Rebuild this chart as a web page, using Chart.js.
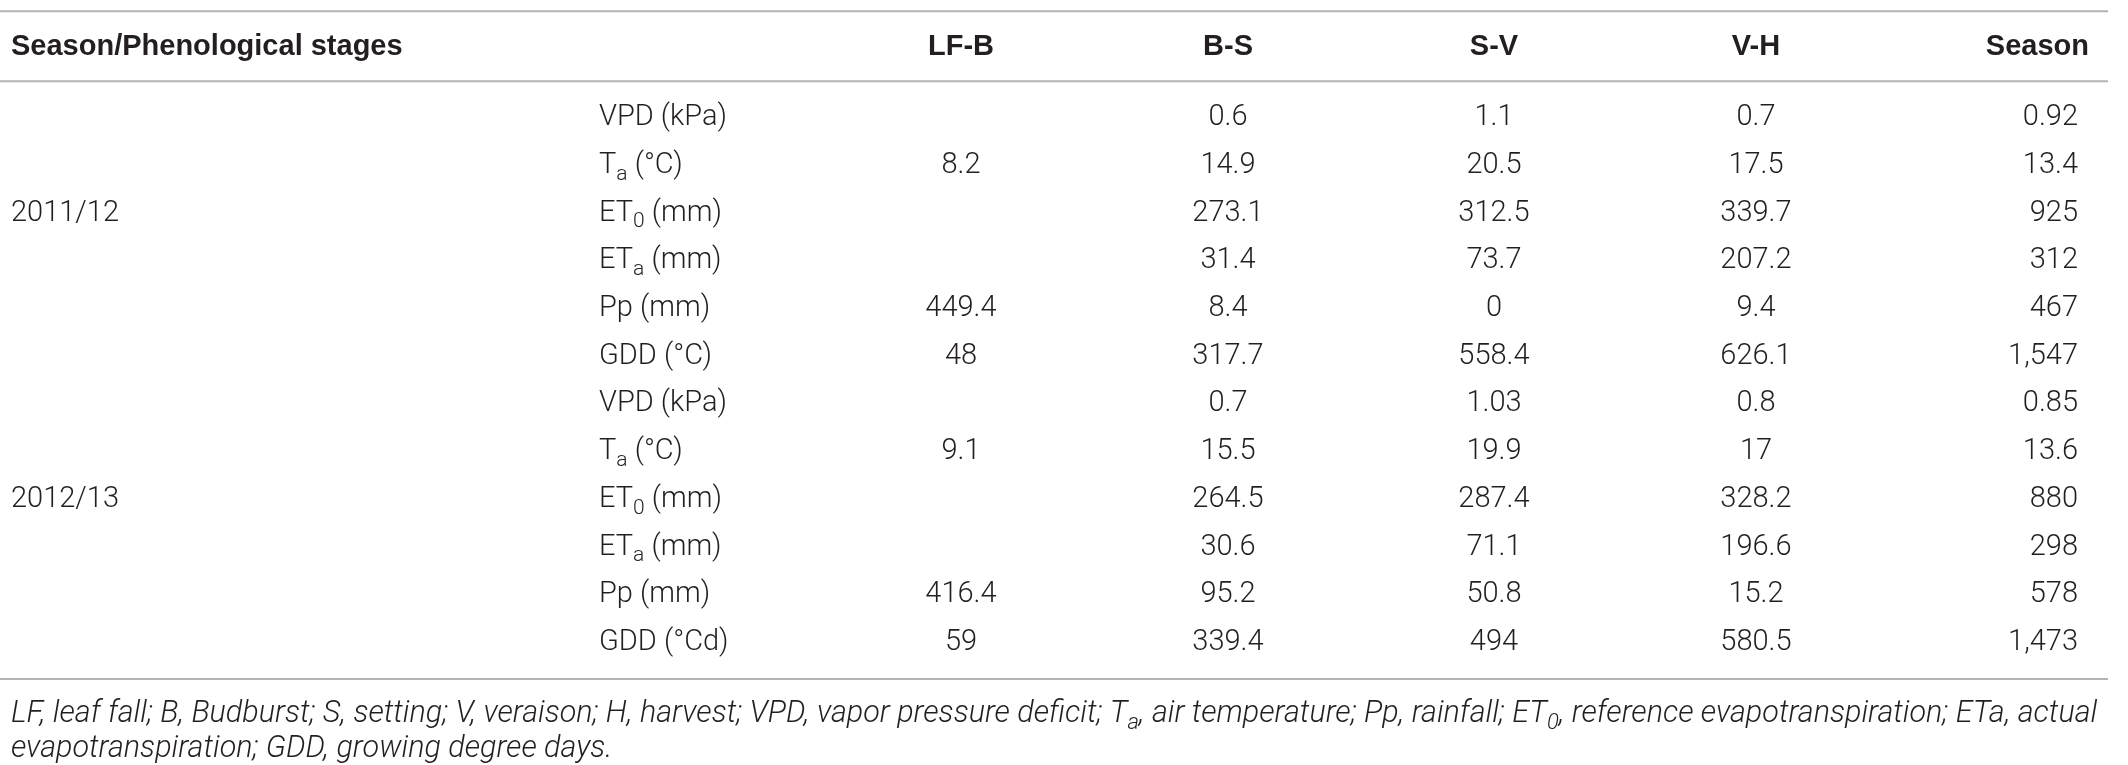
<!DOCTYPE html>
<html>
<head>
<meta charset="utf-8">
<title>Phenological stages table</title>
<script src="https://cdn.jsdelivr.net/npm/chart.js@4.4.1/dist/chart.umd.min.js"></script>
<style>
  html, body { margin: 0; padding: 0; background: #ffffff; }
  #tableChart { display: block; }
</style>
</head>
<body>
<canvas id="tableChart" width="2128" height="765"></canvas>
<script>
// ---- table content ----
var headerLabels = ["Season/Phenological stages", "LF-B", "B-S", "S-V", "V-H", "Season"];
var seasons = ["2011/12", "2012/13"];
var variables = [
    "VPD (kPa)", "T_a (°C)", "ET_0 (mm)", "ET_a (mm)", "Pp (mm)", "GDD (°C)",
    "VPD (kPa)", "T_a (°C)", "ET_0 (mm)", "ET_a (mm)", "Pp (mm)", "GDD (°Cd)"
];
var lfB    = ["", "8.2", "", "", "449.4", "48", "", "9.1", "", "", "416.4", "59"];
var bS     = ["0.6", "14.9", "273.1", "31.4", "8.4", "317.7", "0.7", "15.5", "264.5", "30.6", "95.2", "339.4"];
var sV     = ["1.1", "20.5", "312.5", "73.7", "0", "558.4", "1.03", "19.9", "287.4", "71.1", "50.8", "494"];
var vH     = ["0.7", "17.5", "339.7", "207.2", "9.4", "626.1", "0.8", "17", "328.2", "196.6", "15.2", "580.5"];
var season = ["0.92", "13.4", "925", "312", "467", "1,547", "0.85", "13.6", "880", "298", "578", "1,473"];
var footnoteLines = [
    "LF, leaf fall; B, Budburst; S, setting; V, veraison; H, harvest; VPD, vapor pressure deficit; T_a, air temperature; Pp, rainfall; ET_0, reference evapotranspiration; ETa, actual",
    "evapotranspiration; GDD, growing degree days."
];

// ---- layout (x in table width units, y in row units) ----
var xSeasonCol = 11, xVarCol = 599;
var valueCols = [961, 1228, 1494, 1756, 2078];   // LF-B..V-H centred, Season right aligned
var seasonHeaderX = 2089;
var yHeader = -1.49, yRules = [-2.24, -0.77, 11.76], yFoot = [12.5, 13.24];
var ruleEnd = 2108;
var footEnd = 2098;
var seasonRow = [2, 8];
var textColor = "#231f20";

// ---- build cell list ----
var cells = [];
headerLabels.forEach(function(h, i) {
    if (i === 0) cells.push({x: xSeasonCol, y: yHeader, t: h, a: "left", f: "head"});
    else if (i === 5) cells.push({x: seasonHeaderX, y: yHeader, t: h, a: "right", f: "head"});
    else cells.push({x: valueCols[i - 1], y: yHeader, t: h, a: "center", f: "head"});
});
seasons.forEach(function(s, i) {
    cells.push({x: xSeasonCol, y: seasonRow[i], t: s, a: "left", f: "body"});
});
variables.forEach(function(v, r) {
    cells.push({x: xVarCol, y: r, t: v, a: "left", f: "body"});
});
[lfB, bS, sV, vH, season].forEach(function(col, c) {
    col.forEach(function(v, r) {
        if (v === "") return;
        cells.push({x: valueCols[c], y: r, t: v, a: c === 4 ? "right" : "center", f: "body"});
    });
});
footnoteLines.forEach(function(line, i) {
    cells.push({x: xSeasonCol, y: yFoot[i], t: line, a: "left", f: "foot"});
});

// "_x" means subscript x
function richParts(str) {
    var parts = [], buf = "";
    for (var i = 0; i < str.length; i++) {
        if (str[i] === "_" && i + 1 < str.length) {
            if (buf) parts.push({s: buf, sub: false});
            parts.push({s: str[i + 1], sub: true});
            buf = "";
            i++;
        } else {
            buf += str[i];
        }
    }
    if (buf) parts.push({s: buf, sub: false});
    return parts;
}

function fontSpec(kind, size) {
    if (kind === "head") return "bold " + size + "px 'Liberation Sans', Arial, sans-serif";
    if (kind === "foot") return "italic 300 " + size + "px Roboto, 'Liberation Sans', sans-serif";
    return "300 " + size + "px Roboto, 'Liberation Sans', sans-serif";
}

function drawRich(ctx, str, x, y, align, kind, size) {
    var parts = richParts(str);
    var subSize = Math.round(size * 0.72);
    var total = 0;
    parts.forEach(function(p) {
        ctx.font = fontSpec(kind, p.sub ? subSize : size);
        p.w = ctx.measureText(p.s).width;
        total += p.w;
    });
    var cx = x;
    if (align === "center") cx = x - total / 2;
    else if (align === "right") cx = x - total;
    parts.forEach(function(p) {
        ctx.font = fontSpec(kind, p.sub ? subSize : size);
        ctx.fillText(p.s, cx, p.sub ? y + size * 0.3 : y);
        cx += p.w;
    });
    return total;
}

var tablePlugin = {
    id: "tableText",
    afterDatasetsDraw: function(chart) {
        var ctx = chart.ctx;
        var meta = chart.getDatasetMeta(chart.data.datasets.length - 1);
        var xs = chart.scales.x;
        ctx.save();
        ctx.fillStyle = textColor;
        ctx.textBaseline = "middle";
        ctx.textAlign = "left";
        // footnote size chosen so the first line ends where the reference's does
        var w100 = 0;
        richParts(footnoteLines[0]).forEach(function(p) {
            ctx.font = fontSpec("foot", p.sub ? 72 : 100);
            w100 += ctx.measureText(p.s).width;
        });
        var span = xs.getPixelForValue(footEnd) - xs.getPixelForValue(xSeasonCol);
        var footSize = Math.min(33, 100 * span / w100);
        meta.data.forEach(function(el, i) {
            var c = cells[i];
            var size = c.f === "foot" ? footSize : 29;
            drawRich(ctx, c.t, el.x, el.y, c.a, c.f, size);
        });
        ctx.restore();
    }
};

var ruleSets = yRules.map(function(yr) {
    return {
        type: "line",
        data: [{x: 0, y: yr}, {x: ruleEnd, y: yr}],
        borderColor: "#b4b4b4",
        borderWidth: 2,
        pointRadius: 0,
        fill: false
    };
});

new Chart(document.getElementById("tableChart"), {
    type: "scatter",
    data: {
        datasets: ruleSets.concat([{
            type: "scatter",
            data: cells.map(function(c) { return {x: c.x, y: c.y}; }),
            pointRadius: 0,
            pointHoverRadius: 0
        }])
    },
    options: {
        responsive: false,
        animation: false,
        events: [],
        devicePixelRatio: 1,
        layout: { padding: 0 },
        plugins: { legend: { display: false }, tooltip: { enabled: false } },
        scales: {
            x: { type: "linear", display: false, min: 0, max: 2128 },
            y: { type: "linear", display: false, reverse: true, min: -118 / 47.7, max: (765 - 118) / 47.7 }
        }
    },
    plugins: [tablePlugin]
});
</script>
</body>
</html>
